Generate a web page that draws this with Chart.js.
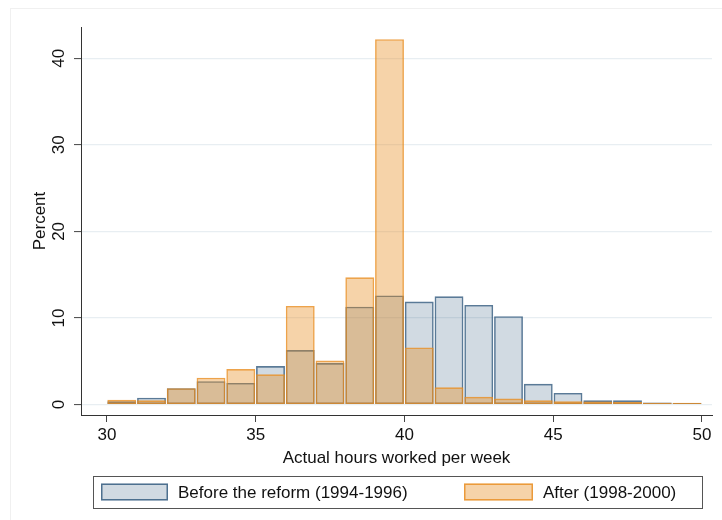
<!DOCTYPE html>
<html>
<head>
<meta charset="utf-8">
<script src="https://cdn.jsdelivr.net/npm/chart.js@4"></script>
<style>
  body { margin: 0; background: #fff; }
  #wrap { width: 722px; height: 520px; }
</style>
</head>
<body>
<div id="wrap"><canvas id="hoursChart"></canvas></div>
<script>
// bins of one hour, lower edge of each bin
const hours = [30, 31, 32, 33, 34, 35, 36, 37, 38, 39, 40, 41, 42, 43, 44, 45, 46, 47, 48, 49];
const before = [0.4, 0.8, 1.9, 2.7, 2.5, 4.45, 6.3, 4.8, 11.3, 12.6, 11.9, 12.5, 11.5, 10.2, 2.4, 1.35, 0.5, 0.5, 0.25, 0.2];
const after = [0.55, 0.5, 1.9, 3.1, 4.1, 3.5, 11.4, 5.1, 14.7, 42.2, 6.6, 2.0, 0.9, 0.7, 0.5, 0.4, 0.35, 0.3, 0.22, 0.22];
const xTicks = [30, 35, 40, 45, 50];
const yTicks = [0, 10, 20, 30, 40];
const labels = ["Before the reform (1994-1996)", "After (1998-2000)"];

const font = "'Liberation Sans', Arial, Helvetica, sans-serif";
const toPoints = (values) => values.map((v, i) => ({ x: hours[i] + 0.5, y: v }));

// faint outer frame like the graph region
const frame = {
  id: "frame",
  beforeDraw: (chart) => {
    const ctx = chart.ctx;
    ctx.save();
    ctx.fillStyle = "#fff";
    ctx.fillRect(0, 0, chart.width, chart.height);
    ctx.strokeStyle = "#f0f0f0";
    ctx.lineWidth = 1;
    ctx.strokeRect(10.5, 8.5, chart.width, chart.height);
    ctx.restore();
  },
};

// boxed legend under the x axis title
const boxedLegend = {
  id: "boxedLegend",
  afterDraw: (chart) => {
    const ctx = chart.ctx;
    const area = chart.chartArea;
    const left = area.left + 12;
    const right = area.right - 10;
    const top = area.bottom + 61;
    const bottom = area.bottom + 93;
    ctx.save();
    ctx.strokeStyle = "#555";
    ctx.lineWidth = 1;
    ctx.strokeRect(left + 0.5, top + 0.5, right - left, bottom - top);

    const mid = (top + bottom) / 2;
    const items = [
      { ds: chart.data.datasets[0], x: left + 8, w: 67 },
      { ds: chart.data.datasets[1], x: left + 371, w: 69 },
    ];
    ctx.font = "17px " + font;
    ctx.textBaseline = "middle";
    items.forEach((item) => {
      ctx.fillStyle = item.ds.backgroundColor;
      ctx.fillRect(item.x, mid - 8.5, item.w, 17);
      ctx.strokeStyle = item.ds.borderColor;
      ctx.lineWidth = 1.5;
      ctx.strokeRect(item.x + 0.75, mid - 7.75, item.w - 1.5, 15.5);
      ctx.fillStyle = "#111";
      ctx.fillText(item.ds.label, item.x + item.w + 10, mid + 1);
    });
    ctx.restore();
  },
};

const ctx = document.getElementById("hoursChart");
const hoursChart = new Chart(ctx, {
  type: "bar",
  data: {
    datasets: [
      {
        label: labels[0],
        data: toPoints(before),
        backgroundColor: "rgba(26, 71, 111, 0.2)",
        borderColor: "rgba(26, 71, 111, 0.72)",
        borderWidth: 1.6,
        order: 2,
      },
      {
        label: labels[1],
        data: toPoints(after),
        backgroundColor: "rgba(232, 140, 30, 0.38)",
        borderColor: "rgba(232, 140, 30, 0.8)",
        borderWidth: 1.6,
        order: 1,
      },
    ],
  },
  options: {
    responsive: true,
    maintainAspectRatio: false,
    animation: false,
    grouped: false,
    barPercentage: 0.97,
    categoryPercentage: 1,
    borderSkipped: false,
    layout: {
      padding: { top: 27, right: 10, bottom: 51, left: 0 },
    },
    plugins: {
      legend: { display: false },
      tooltip: { enabled: false },
    },
    scales: {
      x: {
        type: "linear",
        offset: false,
        min: 29.13,
        max: 50.34,
        afterBuildTicks: (scale) => {
          scale.ticks = xTicks.map((v) => ({ value: v }));
        },
        afterFit: (scale) => {
          scale.height = 54;
        },
        grid: {
          offset: false,
          drawOnChartArea: false,
          tickLength: 7,
          tickColor: "#444",
          tickWidth: 1,
        },
        border: { color: "#333", width: 1 },
        ticks: {
          padding: 3,
          maxRotation: 0,
          color: "#111",
          font: { size: 17, family: font },
        },
        title: {
          display: true,
          text: "Actual hours worked per week",
          color: "#111",
          padding: { top: 0, bottom: 0 },
          font: { size: 17, family: font },
        },
      },
      y: {
        min: -1.2,
        max: 43.6,
        afterBuildTicks: (scale) => {
          scale.ticks = yTicks.map((v) => ({ value: v }));
        },
        afterFit: (scale) => {
          scale.width = 81;
        },
        grid: {
          color: "#e8eef2",
          lineWidth: 1.2,
          tickLength: 7,
          tickColor: "#444",
          tickWidth: 1,
        },
        border: { color: "#333", width: 1 },
        ticks: {
          padding: 5,
          minRotation: 90,
          maxRotation: 90,
          crossAlign: "center",
          color: "#111",
          font: { size: 17, family: font },
        },
        title: {
          display: true,
          text: "Percent",
          color: "#111",
          padding: { top: 30, bottom: 0 },
          font: { size: 17, family: font },
        },
      },
    },
  },
  plugins: [frame, boxedLegend],
});
</script>
</body>
</html>
